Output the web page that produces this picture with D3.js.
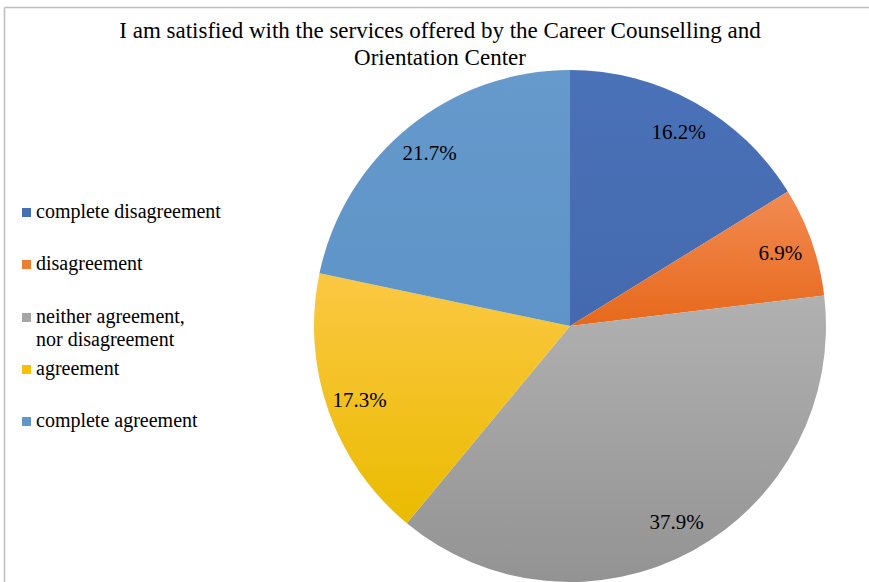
<!DOCTYPE html>
<html>
<head>
<meta charset="utf-8">
<script src="https://cdn.jsdelivr.net/npm/d3@7"></script>
<style>
  html, body { margin: 0; padding: 0; background: #fff; }
  svg { display: block; }
</style>
</head>
<body>
<svg id="chart" width="869" height="582"></svg>
<script>
const titleLines = ["I am satisfied with the services offered by the Career Counselling and", "Orientation Center"];
const categories = ["complete disagreement", "disagreement", "neither agreement, nor disagreement", "agreement", "complete agreement"];
const legendLines = [["complete disagreement"], ["disagreement"], ["neither agreement,", "nor disagreement"], ["agreement"], ["complete agreement"]];
const values = [16.2, 6.9, 37.9, 17.3, 21.7];
const colorsTop = ["#4a72b8", "#f28b52", "#b1b1b1", "#fbc843", "#6699cc"];
const colorsBottom = ["#4469ae", "#e7681b", "#939393", "#eabb00", "#5e94c8"];
const colorsLegend = ["#4670b6", "#ed7d31", "#a5a5a5", "#f8c100", "#5f97cb"];

const FONT = "'Liberation Serif', 'Times New Roman', Times, serif";
const svg = d3.select("#chart").attr("font-family", FONT);
const W = 869, H = 582;

// frame lines (top and left)
svg.append("line").attr("x1", 4.5).attr("y1", 7.5).attr("x2", W).attr("y2", 7.5)
  .attr("stroke", "#bdbdbd").attr("stroke-width", 1.5);
svg.append("line").attr("x1", 4.5).attr("y1", 7.5).attr("x2", 4.5).attr("y2", H)
  .attr("stroke", "#bdbdbd").attr("stroke-width", 1.5);

// title
svg.append("g").selectAll("text").data(titleLines).join("text")
  .attr("x", 440).attr("y", (d, i) => 38 + i * 27)
  .attr("font-family", FONT)
  .attr("text-anchor", "middle").attr("font-size", 23).text(d => d);

// gradients
const defs = svg.append("defs");
categories.forEach((c, i) => {
  const g = defs.append("linearGradient").attr("id", "grad" + i)
    .attr("x1", 0).attr("y1", 0).attr("x2", 0).attr("y2", 1);
  g.append("stop").attr("offset", "0%").attr("stop-color", colorsTop[i]);
  g.append("stop").attr("offset", "100%").attr("stop-color", colorsBottom[i]);
});

// pie
const cx = 570, cy = 326, r = 256;
const pie = d3.pie().sort(null).value(d => d)(values);
const arc = d3.arc().innerRadius(0).outerRadius(r);
const labelArc = d3.arc().innerRadius(r * 0.87).outerRadius(r * 0.87);
const gp = svg.append("g").attr("transform", `translate(${cx},${cy})`);
gp.selectAll("path").data(pie).join("path")
  .attr("d", arc)
  .attr("fill", (d, i) => `url(#grad${i})`);
gp.selectAll("text").data(pie).join("text")
  .attr("transform", d => `translate(${labelArc.centroid(d)})`)
  .attr("font-family", FONT)
  .attr("text-anchor", "middle").attr("dy", "0.35em")
  .attr("font-size", 21)
  .text(d => d.data.toFixed(1) + "%");

// legend
const legendY = [218, 270, 323, 375, 427];
const lg = svg.append("g");
legendLines.forEach((lines, i) => {
  lg.append("rect").attr("x", 22).attr("y", legendY[i] - 10).attr("width", 9).attr("height", 9)
    .attr("fill", colorsLegend[i]);
  lines.forEach((t, j) => {
    lg.append("text").attr("x", 36).attr("y", legendY[i] + j * 23)
      .attr("font-family", FONT)
      .attr("font-size", 20).text(t);
  });
});
</script>
</body>
</html>
